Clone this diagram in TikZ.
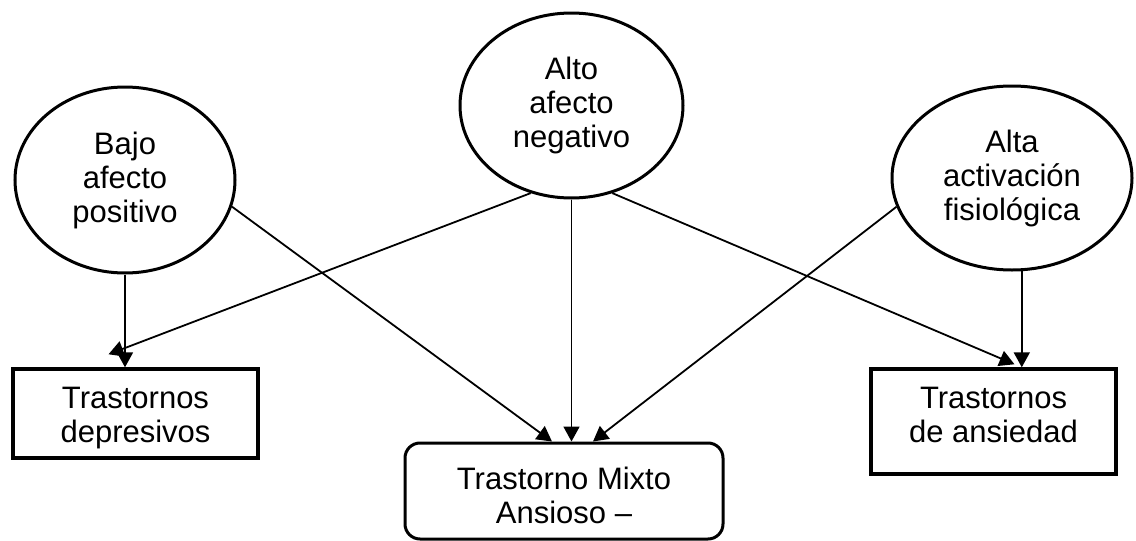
\documentclass[tikz,border=0pt]{standalone}
\usepackage{fontspec}
\setmainfont{Liberation Sans}
\usetikzlibrary{shapes.geometric,arrows.meta}
\begin{document}
\begin{tikzpicture}[x=1pt,y=-1pt,
  txt/.style={font=\fontsize{31}{34}\selectfont, align=center},
  oval/.style={ellipse, draw, line width=3pt, inner sep=0pt, txt},
  boxshape/.style={draw, line width=3.4pt, inner sep=0pt},
  boxtext/.style={txt, anchor=north, inner sep=0pt},
  arr/.style={line width=1.8pt, -{Triangle[length=15pt,width=16pt]}}]
\useasboundingbox (0,0) rectangle (1136,541);
% ellipses
\node[oval, minimum width=220pt, minimum height=186pt] (bajo) at (125,180) {Bajo\\afecto\\positivo};
\node[oval, minimum width=223pt, minimum height=185pt] (alto) at (571.5,105.5) {Alto\\afecto\\negativo};
\node[oval, minimum width=240pt, minimum height=184pt] (alta) at (1012,178) {Alta\\activación\\fisiológica};
% boxes
\node[boxshape, minimum width=245pt, minimum height=89pt] (dep) at (135.5,413.5) {};
\node[boxtext] (deptxt) at (135.5,387) {Trastornos\\depresivos};
\node[boxshape, minimum width=245pt, minimum height=105pt] (ans) at (993.5,421.5) {};
\node[boxtext] (anstxt) at (993.5,387) {Trastornos\\de ansiedad};
\node[boxshape, rounded corners=15pt, line width=3pt, minimum width=318pt, minimum height=96pt] (mix) at (564,491) {};
\node[boxtext] (mixtxt) at (564,467) {Trastorno Mixto\\Ansioso --};
% connectors
\draw[arr] (bajo.south) -- (bajo.south |- dep.north);
\draw[arr] (bajo.-14) -- ([xshift=-12pt]mix.north);
\draw[arr] (alto.245) -- ([xshift=-27pt,yshift=13pt]dep.north);
\draw[arr] (alto.south) -- (alto.south |- mix.north);
\draw[arr] (alto.-65) -- ([xshift=21pt,yshift=3pt]ans.north);
\draw[arr] (alta.194) -- ([xshift=29pt]mix.north);
\draw[arr] (alta.-84) -- (alta.-84 |- ans.north);
\end{tikzpicture}
\end{document}
